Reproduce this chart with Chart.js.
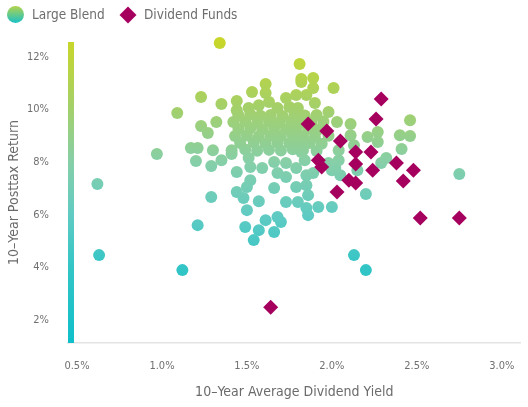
<!DOCTYPE html>
<html>
<head>
<meta charset="utf-8">
<script src="https://cdn.jsdelivr.net/npm/chart.js@4/dist/chart.umd.min.js"></script>
<style>
  body { margin: 0; background: #fff; }
  #wrap { position: relative; width: 528px; height: 407px; }
  .legend { position: absolute; top: 6px; left: 7px; font: 13.5px 'Liberation Sans Narrow', 'DejaVu Sans Condensed', sans-serif; color: #6e6e6e; }
  .legend span { position: absolute; white-space: nowrap; }
  .dot { width: 17px; height: 17px; border-radius: 50%; background: linear-gradient(#b4d34c, #18c1c8); }
  .diamond { width: 12px; height: 12px; background: #a6005f; transform: rotate(45deg); }
</style>
</head>
<body>
<div id="wrap">
  <canvas id="scatter-chart" width="528" height="407"></canvas>
  <div class="legend">
    <span class="dot" style="left:0;top:0"></span>
    <span style="left:25px;top:0px">Large Blend</span>
    <span class="diamond" style="left:115px;top:3px"></span>
    <span style="left:137px;top:0px">Dividend Funds</span>
  </div>
</div>
<script>
// Large Blend funds: 10-year average dividend yield (%) and 10-year posttax return (%)
const blendYield = [
  1.34, 1.81, 1.82, 1.89, 1.89, 1.61, 1.61, 1.53, 1.23, 1.73, 1.79, 1.85, 2.01, 1.82,
  1.35, 1.44, 1.51, 1.57, 1.63, 1.68, 1.75, 1.80, 1.90, 1.44, 1.09,
  1.45, 1.52, 1.58, 1.64, 1.71, 1.78, 1.84, 1.91,
  1.42, 1.49, 1.56, 1.63, 1.69, 1.76, 1.82, 1.88, 1.95,
  1.45, 1.52, 1.59, 1.66, 1.73, 1.79, 1.86, 1.92,
  1.43, 1.50, 1.57, 1.64, 1.70, 1.77, 1.83, 1.90, 1.98,
  1.46, 1.54, 1.61, 1.68, 1.75, 1.81, 1.87, 1.94,
  1.41, 1.49, 1.56, 1.63, 1.70, 1.77, 1.83, 1.91,
  1.23, 1.32, 1.27, 1.17, 1.21, 1.30, 0.97, 0.62, 0.63,
  2.03, 2.11, 2.46, 2.40, 2.46, 2.41, 2.21, 2.27, 2.27, 2.11, 2.13, 2.32, 2.29,
  2.04, 1.98, 2.02, 2.15, 1.98,
  1.20, 1.29, 1.35, 1.41, 1.44, 1.51, 1.52, 1.59, 1.66, 1.68, 1.73, 1.73, 1.79, 1.79,
  1.84, 1.85, 1.89, 1.85, 1.86, 1.52, 1.50, 1.44, 1.29, 1.48, 1.57, 1.50, 1.66, 1.73,
  1.80, 1.85, 1.86, 1.92, 2.00, 2.20, 2.00, 2.05, 1.82, 2.04,
  1.21, 1.49, 1.57, 1.61, 1.68, 1.70, 1.66, 1.54, 1.12, 2.13, 2.20, 2.75
];
const blendReturn = [
  12.53, 11.73, 11.16, 11.20, 10.82, 10.97, 10.63, 10.67, 10.48, 10.44, 10.56, 10.56, 10.82, 11.05,
  10.21, 10.33, 10.06, 10.17, 10.29, 10.06, 10.10, 10.06, 10.25, 9.98, 9.87,
  9.79, 9.82, 9.77, 9.80, 9.76, 9.81, 9.78, 9.80,
  9.53, 9.55, 9.50, 9.54, 9.52, 9.56, 9.51, 9.53, 9.55,
  9.26, 9.28, 9.24, 9.27, 9.25, 9.29, 9.26, 9.24,
  9.00, 9.02, 8.98, 9.01, 8.99, 9.03, 9.00, 8.97, 9.01,
  8.73, 8.75, 8.71, 8.74, 8.72, 8.76, 8.73, 8.70,
  8.46, 8.48, 8.44, 8.47, 8.45, 8.49, 8.46, 8.43,
  9.38, 9.53, 9.11, 8.54, 8.54, 8.46, 8.31, 7.17, 4.47,
  9.53, 9.45, 9.60, 9.03, 9.00, 8.50, 8.96, 9.15, 8.77, 9.03, 8.65, 8.16, 7.97,
  8.46, 7.97, 7.78, 7.70, 9.91,
  8.05, 7.86, 8.08, 8.31, 7.63, 8.16, 7.82, 7.78, 8.01, 7.59, 7.97, 7.44, 7.78, 7.06,
  8.08, 7.51, 7.59, 7.13, 6.75, 7.32, 7.06, 6.87, 6.68, 6.64, 6.52, 6.18, 7.02, 6.49,
  6.49, 6.26, 5.99, 6.30, 6.30, 6.79, 7.70, 7.51, 8.39, 8.08,
  5.61, 5.54, 5.42, 5.80, 5.92, 5.73, 5.35, 5.04, 3.90, 4.47, 3.90, 7.55
];

// Dividend funds
const divYield = [2.29, 2.26, 1.86, 1.97, 2.05, 2.14, 2.23, 1.92, 1.94, 2.14, 2.24, 2.38, 2.48, 2.42, 2.10, 2.14, 2.03, 2.52, 2.75, 1.64];
const divReturn = [10.40, 9.64, 9.45, 9.19, 8.81, 8.39, 8.39, 8.08, 7.82, 7.93, 7.70, 7.97, 7.70, 7.29, 7.32, 7.21, 6.87, 5.88, 5.88, 2.49];

const xTicks = [0.5, 1.0, 1.5, 2.0, 2.5, 3.0];
const yTicks = [2, 4, 6, 8, 10, 12];
const xMin = 0.447, xMax = 3.11;
const yMin = 1.13, yMax = 12.57;

// colour ramp keyed to return value
const rampValues = [1.13, 4, 6, 8, 10, 12.57];
const rampColors = ['#0fbfca', '#33c5c6', '#60cbc3', '#86cfa8', '#a3d06c', '#c8d62a'];

const FONT = "'Liberation Sans Narrow', 'DejaVu Sans Condensed', sans-serif";

let gradCache = null;
function returnGradient(chart) {
    const area = chart.chartArea;
    if (!area) return rampColors[2];
    const key = area.top + '-' + area.bottom;
    if (gradCache && gradCache.key === key) return gradCache.grad;
    const g = chart.ctx.createLinearGradient(0, area.bottom, 0, area.top);
    rampValues.forEach((v, i) => {
        g.addColorStop((v - yMin) / (yMax - yMin), rampColors[i]);
    });
    gradCache = { key: key, grad: g };
    return g;
}

// gradient bar standing in for the y axis line
const gradientAxis = {
    id: 'gradientAxis',
    beforeDatasetsDraw(chart) {
        const { ctx, chartArea } = chart;
        ctx.save();
        ctx.fillStyle = returnGradient(chart);
        ctx.fillRect(chartArea.left, chartArea.top, 6, chartArea.bottom - chartArea.top);
        ctx.restore();
    }
};

document.addEventListener('DOMContentLoaded', () => {
    const canvas = document.getElementById('scatter-chart');
    new Chart(canvas, {
        type: 'scatter',
        data: {
            datasets: [
                {
                    label: 'Dividend Funds',
                    data: divYield.map((x, i) => ({ x: x, y: divReturn[i] })),
                    backgroundColor: '#a6005f',
                    borderWidth: 0,
                    pointStyle: 'rectRot',
                    pointRadius: 7.5,
                    clip: false,
                    order: 0
                },
                {
                    label: 'Large Blend',
                    data: blendYield.map((x, i) => ({ x: x, y: blendReturn[i] })),
                    backgroundColor: ctx => returnGradient(ctx.chart),
                    borderWidth: 0,
                    pointRadius: 6,
                    clip: false,
                    order: 1
                }
            ]
        },
        options: {
            responsive: false,
            animation: false,
            layout: { padding: { top: 42, right: 3, left: 0, bottom: 0 } },
            plugins: { legend: { display: false }, tooltip: { enabled: false } },
            scales: {
                x: {
                    type: 'linear',
                    min: xMin,
                    max: xMax,
                    afterBuildTicks: s => { s.ticks = xTicks.map(v => ({ value: v })); },
                    afterFit: s => { s.height = 64; },
                    grid: { display: false },
                    border: { color: '#e4e4e4', width: 1.5 },
                    ticks: {
                        padding: 9,
                        color: '#707070',
                        font: { family: FONT, size: 11 },
                        callback: v => v.toFixed(1) + '%'
                    },
                    title: {
                        display: true,
                        text: '10–Year Average Dividend Yield',
                        color: '#6b6b6b',
                        font: { family: FONT, size: 14 },
                        padding: { top: 0, bottom: 6 }
                    }
                },
                y: {
                    min: yMin,
                    max: yMax,
                    afterBuildTicks: s => { s.ticks = yTicks.map(v => ({ value: v })); },
                    afterFit: s => { s.width = 68; },
                    grid: { display: false },
                    border: { display: false },
                    ticks: {
                        padding: 11,
                        color: '#707070',
                        font: { family: FONT, size: 11 },
                        callback: v => v + '%'
                    },
                    title: {
                        display: true,
                        text: '10–Year Posttax Return',
                        color: '#6b6b6b',
                        font: { family: FONT, size: 14 },
                        padding: { top: 6, bottom: 0 }
                    }
                }
            }
        },
        plugins: [gradientAxis]
    });
});
</script>
</body>
</html>
